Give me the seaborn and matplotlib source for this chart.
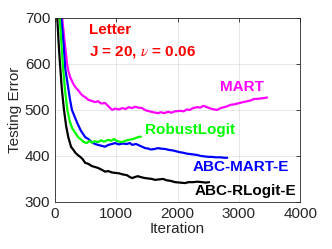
import numpy as np
import pandas as pd
import matplotlib
matplotlib.use("Agg")
import matplotlib.pyplot as plt
import seaborn as sns

# values
mart_it = [90, 115, 150, 195, 215, 250, 300, 340, 375, 420, 460, 490, 540, 590, 650, 700, 750, 815,
           870, 930, 980, 1040, 1095, 1150, 1200, 1260, 1305, 1360, 1420, 1480, 1540, 1600, 1680,
           1730, 1780, 1845, 1900, 1960, 2040, 2100, 2150, 2200, 2250, 2320, 2370, 2420, 2480, 2540,
           2600, 2645, 2700, 2760, 2810, 2860, 2920, 2980, 3070, 3140, 3200, 3250, 3300, 3360, 3420, 3460]
mart_err = [760, 700, 655, 600, 585, 570, 556, 548, 543, 535, 530, 528, 522, 520, 517, 519, 514, 515,
            508, 500, 503, 501, 504, 502, 506, 504, 507, 505, 504, 499, 497, 495, 493,
            495, 493, 496, 494, 497, 498, 497, 501, 500, 504, 506, 505, 509, 506, 503,
            501, 500, 504, 506, 508, 511, 512, 514, 517, 519, 521, 524, 524, 525, 526, 527]

abc_mart_it = [80, 100, 140, 165, 200, 240, 275, 320, 360, 420, 490, 540, 600, 650, 700, 760, 815,
               870, 930, 980, 1040, 1100, 1170, 1220, 1260, 1320, 1370, 1420, 1470, 1520, 1560,
               1620, 1680, 1720, 1800, 1860, 1920, 1980, 2040, 2090, 2150, 2210, 2270, 2320, 2380,
               2440, 2500, 2560, 2620, 2700, 2760, 2810]
abc_mart_err = [760, 700, 640, 590, 560, 525, 500, 485, 472, 455, 441, 437, 430, 426, 424, 422, 420,
                424, 426, 428, 425, 427, 426, 428, 424, 426, 423, 420, 417, 416, 414,
                415, 417, 416, 415, 413, 412, 410, 408, 407, 405, 404, 403, 402, 400,
                399, 398, 398, 397, 397, 396, 396]

robust_it = [55, 75, 100, 125, 160, 200, 240, 280, 330, 375, 420, 470, 520, 560, 600, 650, 700, 750,
             800, 865, 920, 960, 1000, 1050, 1095, 1150, 1200, 1250, 1300, 1355, 1400]
robust_err = [760, 700, 650, 600, 545, 500, 475, 460, 450, 441, 436, 430, 428, 433, 429, 432, 430, 434,
              431, 435, 433, 437, 433, 431, 430, 433, 435, 436, 438, 441, 442]

abc_rl_it = [20, 35, 60, 80, 110, 145, 180, 215, 260, 300, 330, 370, 410, 450, 490, 540, 600, 650,
             700, 760, 815, 870, 930, 990, 1050, 1100, 1175, 1220, 1260, 1300, 1350, 1400, 1460,
             1520, 1580, 1630, 1700, 1765, 1820, 1880, 1960, 2040, 2120, 2180, 2250, 2320, 2400,
             2460, 2515]
abc_rl_err = [760, 700, 640, 600, 545, 500, 465, 441, 420, 413, 407, 402, 398, 393, 385, 383, 378, 376,
              374, 370, 366, 367, 364, 363, 362, 360, 358, 354, 352, 354, 356, 354, 352,
              351, 350, 348, 349, 350, 347, 346, 343, 342, 341, 343, 343, 344, 343,
              342, 343]

names = ["MART", "ABC-MART-E", "RobustLogit", "ABC-RLogit-E"]
colors = ["#ff00ff", "#0000ff", "#00ff00", "#000000"]

df = pd.concat([
    pd.DataFrame({"it": mart_it, "err": mart_err, "method": "MART"}),
    pd.DataFrame({"it": abc_mart_it, "err": abc_mart_err, "method": "ABC-MART-E"}),
    pd.DataFrame({"it": robust_it, "err": robust_err, "method": "RobustLogit"}),
    pd.DataFrame({"it": abc_rl_it, "err": abc_rl_err, "method": "ABC-RLogit-E"}),
])

sns.set_style("white")
plt.rcParams["font.family"] = ["Liberation Sans", "DejaVu Sans"]
plt.rcParams["mathtext.fontset"] = "stix"

fig = plt.figure(figsize=(3.32, 2.49), dpi=100)
ax = fig.add_axes([0.166, 0.189, 0.738, 0.739])
sns.lineplot(data=df, x="it", y="err", hue="method", hue_order=names,
             palette=dict(zip(names, colors)), linewidth=1.6, legend=False, ax=ax,
             estimator=None, sort=False)

ax.set_xlim(0, 4000)
ax.set_ylim(300, 700)
ax.set_xticks([0, 1000, 2000, 3000, 4000])
ax.set_yticks([300, 400, 500, 600, 700])
ax.grid(True, color="#262626", alpha=0.12, linewidth=0.6)
ax.tick_params(direction="in", length=3, top=True, right=True, labelsize=11,
               colors="#262626", width=0.6)
for s in ax.spines.values():
    s.set_color("#262626")
    s.set_linewidth(0.6)
ax.set_xlabel("Iteration", fontsize=11, color="#262626", labelpad=1)
ax.set_ylabel("Testing Error", fontsize=11, color="#262626", labelpad=2)

ax.text(560, 674, "Letter", color="#ff0000", fontsize=11, fontweight="bold", va="center")
ax.text(560, 626, "J = 20, $\\nu$ = 0.06", color="#ff0000", fontsize=11, fontweight="bold", va="center")
ax.text(2700, 550, "MART", color="#ff00ff", fontsize=11, fontweight="bold", va="center")
ax.text(1470, 457, "RobustLogit", color="#00ff00", fontsize=11, fontweight="bold", va="center")
ax.text(2250, 376, "ABC-MART-E", color="#0000ff", fontsize=11, fontweight="bold", va="center")
ax.text(2280, 324, "ABC-RLogit-E", color="#000000", fontsize=11, fontweight="bold", va="center")

fig.savefig("out.png", dpi=100)
